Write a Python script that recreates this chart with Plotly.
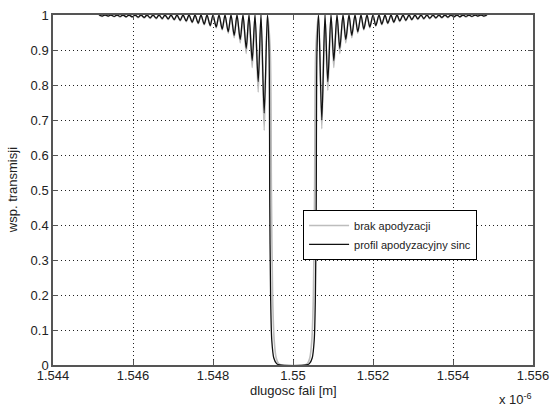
import plotly.graph_objects as go

# ---- data (wavelength in units of 1e-6 m, transmission) ----
left_peak_lam = [1.54515, 1.54530, 1.54545, 1.54560, 1.54575, 1.54590, 1.54605, 1.54620,
                 1.54635, 1.54650, 1.54665, 1.54680, 1.54695, 1.54710, 1.54725, 1.54740,
                 1.54755, 1.54770, 1.54785, 1.54800, 1.54815, 1.54830, 1.54845, 1.54860,
                 1.54875, 1.54890, 1.54905, 1.54920, 1.54936]
left_trough_lam = [1.54523, 1.54538, 1.54553, 1.54568, 1.54583, 1.54598, 1.54613, 1.54628,
                   1.54643, 1.54658, 1.54673, 1.54688, 1.54703, 1.54718, 1.54733, 1.54748,
                   1.54763, 1.54778, 1.54793, 1.54808, 1.54823, 1.54838, 1.54853, 1.54868,
                   1.54883, 1.54898, 1.54913, 1.54928]
right_peak_lam = [1.55064, 1.55080, 1.55095, 1.55110, 1.55125, 1.55140, 1.55155, 1.55170,
                  1.55185, 1.55200, 1.55215, 1.55230, 1.55245, 1.55260, 1.55275, 1.55290,
                  1.55305, 1.55320, 1.55335, 1.55350, 1.55365, 1.55380, 1.55395, 1.55410,
                  1.55425, 1.55440, 1.55455, 1.55470, 1.55485]
right_trough_lam = [1.55072, 1.55087, 1.55102, 1.55117, 1.55132, 1.55147, 1.55162, 1.55177,
                    1.55192, 1.55207, 1.55222, 1.55237, 1.55252, 1.55267, 1.55282, 1.55297,
                    1.55312, 1.55327, 1.55342, 1.55357, 1.55372, 1.55387, 1.55402, 1.55417,
                    1.55432, 1.55447, 1.55462, 1.55477]
peak_T = 1.0

gray_left_trough_T = [0.996, 0.996, 0.995, 0.994, 0.994, 0.993, 0.992, 0.991, 0.990, 0.989,
                      0.988, 0.987, 0.985, 0.983, 0.981, 0.978, 0.975, 0.972, 0.968, 0.963,
                      0.957, 0.948, 0.935, 0.920, 0.890, 0.850, 0.780, 0.670]
gray_right_trough_T = [0.675, 0.785, 0.850, 0.890, 0.920, 0.935, 0.948, 0.957, 0.963, 0.968,
                       0.972, 0.975, 0.978, 0.981, 0.983, 0.985, 0.987, 0.988, 0.989, 0.990,
                       0.991, 0.992, 0.993, 0.994, 0.994, 0.995, 0.996, 0.996]
black_left_trough_T = [0.997, 0.997, 0.996, 0.996, 0.995, 0.995, 0.994, 0.993, 0.992, 0.991,
                       0.990, 0.989, 0.987, 0.985, 0.983, 0.980, 0.977, 0.974, 0.970, 0.966,
                       0.960, 0.952, 0.942, 0.930, 0.905, 0.870, 0.810, 0.720]
black_right_trough_T = [0.700, 0.810, 0.870, 0.905, 0.930, 0.942, 0.952, 0.960, 0.966, 0.970,
                        0.974, 0.977, 0.980, 0.983, 0.985, 0.987, 0.989, 0.990, 0.991, 0.992,
                        0.993, 0.994, 0.995, 0.995, 0.996, 0.996, 0.997, 0.997]

gray_band_lam = [1.54943, 1.54946, 1.54949, 1.54953, 1.54958, 1.54964, 1.54972,
                 1.55028, 1.55036, 1.55042, 1.55047, 1.55051, 1.55054, 1.55057]
gray_band_T = [0.90, 0.50, 0.20, 0.07, 0.02, 0.004, 0.0,
               0.0, 0.004, 0.02, 0.07, 0.20, 0.50, 0.90]
black_band_lam = [1.54940, 1.54942, 1.54944, 1.54947, 1.54952, 1.54959, 1.54967,
                  1.55033, 1.55041, 1.55048, 1.55053, 1.55056, 1.55058, 1.55060]
black_band_T = [0.90, 0.45, 0.20, 0.07, 0.02, 0.004, 0.0,
                0.0, 0.004, 0.02, 0.07, 0.20, 0.45, 0.90]

x_tick_vals = [1.544, 1.546, 1.548, 1.550, 1.552, 1.554, 1.556]
x_tick_text = ["1.544", "1.546", "1.548", "1.55", "1.552", "1.554", "1.556"]
y_tick_vals = [0, 0.1, 0.2, 0.3, 0.4, 0.5, 0.6, 0.7, 0.8, 0.9, 1]
y_tick_text = ["0", "0.1", "0.2", "0.3", "0.4", "0.5", "0.6", "0.7", "0.8", "0.9", "1"]

series_names = ["brak apodyzacji", "profil apodyzacyjny sinc"]


def build(trough_l, trough_r, band_lam, band_T):
    pts = [(l, peak_T) for l in left_peak_lam + right_peak_lam]
    pts += list(zip(left_trough_lam, trough_l))
    pts += list(zip(right_trough_lam, trough_r))
    pts += list(zip(band_lam, band_T))
    pts.sort()
    return [p[0] for p in pts], [p[1] for p in pts]


gx, gy = build(gray_left_trough_T, gray_right_trough_T, gray_band_lam, gray_band_T)
bx, by = build(black_left_trough_T, black_right_trough_T, black_band_lam, black_band_T)

FONT = "Liberation Sans, Arial, sans-serif"

fig = go.Figure()
fig.add_trace(go.Scatter(x=gx, y=gy, mode="lines", name=series_names[0],
                         line=dict(color="#bdbdbd", width=1.6, shape="spline", smoothing=0.8)))
fig.add_trace(go.Scatter(x=bx, y=by, mode="lines", name=series_names[1],
                         line=dict(color="#111111", width=1.3, shape="spline", smoothing=0.8)))

axis_common = dict(showline=True, linecolor="#555555", linewidth=1.5, mirror="ticks",
                   ticks="inside", ticklen=5, tickcolor="#555555",
                   showgrid=True, gridcolor="#222222", gridwidth=1, griddash="1px,3px",
                   zeroline=False, automargin=False,
                   tickfont=dict(family=FONT, size=13, color="#222222"))

fig.update_xaxes(range=[1.544, 1.556], tickvals=x_tick_vals, ticktext=x_tick_text,
                 ticklabelstandoff=-2, **axis_common)
fig.update_yaxes(range=[0, 1], tickvals=y_tick_vals, ticktext=y_tick_text, **axis_common)

fig.update_layout(
    width=551, height=409,
    margin=dict(l=53, r=18, t=15, b=44),
    paper_bgcolor="white", plot_bgcolor="white",
    font=dict(family=FONT, size=12, color="#222222"),
    showlegend=True,
    legend=dict(x=0.521, y=0.443, xanchor="left", yanchor="top",
                bgcolor="white", bordercolor="#000000", borderwidth=1,
                font=dict(family=FONT, size=11, color="#222222"),
                itemwidth=40, tracegroupgap=0),
    annotations=[
        dict(text="dlugosc fali [m]", xref="paper", yref="paper", x=0.5, y=-0.072,
             xanchor="center", yanchor="middle", showarrow=False,
             font=dict(family=FONT, size=13, color="#222222")),
        dict(text="wsp. transmisji", xref="paper", yref="paper", x=-0.085, y=0.5,
             xanchor="center", yanchor="middle", textangle=-90, showarrow=False,
             font=dict(family=FONT, size=13, color="#222222")),
        dict(text="x 10<sup>-6</sup>", xref="paper", yref="paper", x=0.925, y=-0.098,
             xanchor="left", yanchor="middle", showarrow=False,
             font=dict(family=FONT, size=13, color="#222222")),
    ],
)

fig.write_html("out.html", config={"displayModeBar": False},
               post_script="document.body.style.margin='0px';")
